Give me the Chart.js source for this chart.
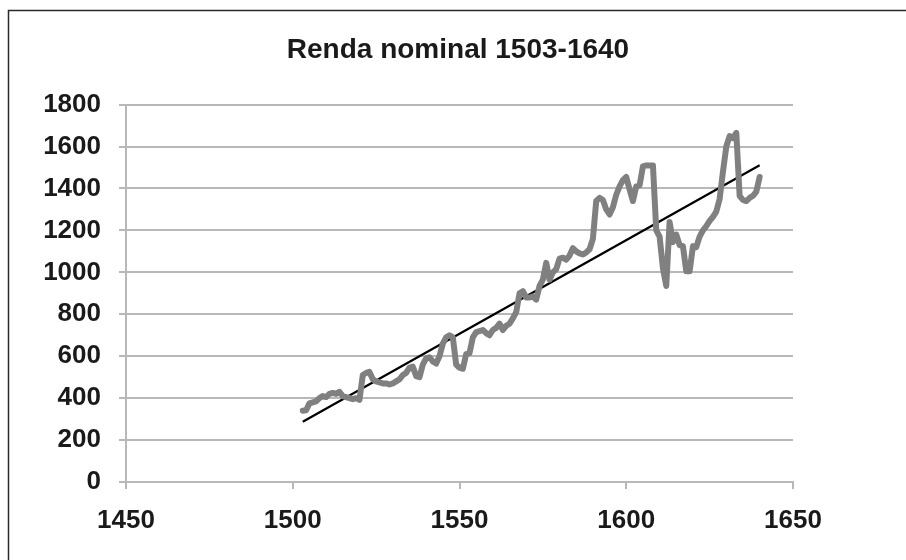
<!DOCTYPE html>
<html>
<head>
<meta charset="utf-8">
<script src="https://cdn.jsdelivr.net/npm/chart.js@4.4.1/dist/chart.umd.min.js"></script>
<style>
  html, body { margin: 0; padding: 0; background: #fff; }
  #wrap { position: relative; width: 906px; height: 560px; }
</style>
</head>
<body>
<div id="wrap"><canvas id="c" width="906" height="560"></canvas></div>
<script>
const titleText = 'Renda nominal 1503-1640';
const years = [
  1503,1504,1505,1506,1507,1508,1509,1510,1511,1512,1513,1514,1515,1516,1517,1518,1519,1520,
  1521,1522,1523,1524,1525,1526,1527,1528,1529,1530,1531,1532,1533,1534,1535,1536,1537,1538,1539,1540,
  1541,1542,1543,1544,1545,1546,1547,1548,1549,1550,1551,1552,1553,1554,1555,1556,1557,1558,1559,1560,
  1561,1562,1563,1564,1565,1566,1567,1568,1569,1570,1571,1572,1573,1574,1575,1576,1577,1578,1579,1580,
  1581,1582,1583,1584,1585,1586,1587,1588,1589,1590,1591,1592,1593,1594,1595,1596,1597,1598,1599,1600,
  1601,1602,1603,1604,1605,1606,1607,1608,1609,1610,1611,1612,1613,1614,1615,1616,1617,1618,1619,1620,
  1621,1622,1623,1624,1625,1626,1627,1628,1629,1630,1631,1632,1633,1634,1635,1636,1637,1638,1639,1640
];
const renda = [
  340,342,375,380,385,400,410,405,420,425,420,430,410,405,400,395,400,392,
  510,520,525,490,480,475,470,470,465,470,480,490,510,520,545,550,505,500,560,590,
  595,575,565,600,660,690,700,690,560,545,540,610,615,690,715,720,725,710,700,725,
  735,755,725,745,755,780,810,900,910,880,880,885,870,935,965,1045,965,1000,1015,1065,
  1070,1060,1080,1115,1100,1090,1085,1095,1110,1160,1340,1355,1345,1300,1276,1310,1370,1410,1440,1455,
  1395,1340,1410,1415,1505,1510,1510,1510,1200,1170,1020,935,1240,1145,1180,1130,1125,1005,1005,1125,
  1120,1170,1200,1220,1245,1265,1290,1350,1480,1600,1650,1640,1665,1365,1345,1340,1355,1365,1385,1455
];
const trendYears = [1503, 1640];
const trendValues = [287, 1511];
const xTicks = [1450, 1500, 1550, 1600, 1650];
const yTicks = [0, 200, 400, 600, 800, 1000, 1200, 1400, 1600, 1800];

const mainData = years.map((y, i) => ({ x: y, y: renda[i] }));
const trendData = trendYears.map((y, i) => ({ x: y, y: trendValues[i] }));

const borderPlugin = {
  id: 'outerBorder',
  beforeDraw(chart) {
    const ctx = chart.ctx;
    ctx.save();
    ctx.fillStyle = '#fff';
    ctx.fillRect(0, 0, chart.width, chart.height);
    ctx.restore();
  },
  afterDraw(chart) {
    const ctx = chart.ctx;
    ctx.save();
    ctx.strokeStyle = '#2a2a2a';
    ctx.lineWidth = 1.5;
    ctx.beginPath();
    ctx.moveTo(8.5, chart.height);
    ctx.lineTo(8.5, 10.5);
    ctx.lineTo(chart.width, 10.5);
    ctx.stroke();
    ctx.restore();
  }
};

const font = "'Liberation Sans', Arial, sans-serif";
const textColor = '#1a1a1a';

new Chart(document.getElementById('c'), {
  type: 'line',
  data: {
    datasets: [
      {
        label: 'Renda',
        data: mainData,
        borderColor: '#808080',
        borderWidth: 6,
        pointRadius: 0,
        tension: 0,
        borderJoinStyle: 'round',
        borderCapStyle: 'round',
        fill: false
      },
      {
        label: 'Tendência',
        data: trendData,
        borderColor: '#000',
        borderWidth: 2.2,
        pointRadius: 0,
        tension: 0,
        fill: false
      }
    ]
  },
  options: {
    responsive: false,
    animation: false,
    layout: { padding: { left: 10, right: 0, top: 0, bottom: 0 } },
    plugins: {
      legend: { display: false },
      tooltip: { enabled: false },
      title: {
        display: true,
        text: titleText,
        color: textColor,
        font: { family: font, size: 28, weight: 'bold' },
        padding: { top: 33, bottom: 38 }
      }
    },
    scales: {
      x: {
        type: 'linear',
        min: 1450,
        max: 1650,
        afterBuildTicks(scale) { scale.ticks = xTicks.map(v => ({ value: v })); },
        afterFit(scale) { scale.height = 78; },
        ticks: {
          color: textColor,
          font: { family: font, size: 26, weight: 'bold' },
          padding: 16,
          maxRotation: 0,
          callback: v => String(v)
        },
        grid: {
          drawOnChartArea: false,
          drawTicks: true,
          tickLength: 7,
          color: '#b8b8b8',
          lineWidth: 2
        },
        border: { display: true, color: '#b8b8b8', width: 2 }
      },
      y: {
        type: 'linear',
        min: 0,
        max: 1800,
        afterBuildTicks(scale) { scale.ticks = yTicks.map(v => ({ value: v })); },
        afterFit(scale) { scale.width = 116; },
        ticks: {
          color: textColor,
          font: { family: font, size: 26, weight: 'bold' },
          padding: 18,
          callback: v => String(v)
        },
        grid: {
          drawOnChartArea: true,
          drawTicks: true,
          tickLength: 7,
          color: '#b8b8b8',
          lineWidth: 2
        },
        border: { display: true, color: '#b8b8b8', width: 2 }
      },
      yPad: {
        type: 'linear',
        position: 'right',
        display: true,
        afterFit(scale) { scale.width = 113; },
        ticks: { display: false },
        grid: { display: false, drawTicks: false },
        border: { display: false }
      }
    }
  },
  plugins: [borderPlugin]
});
</script>
</body>
</html>
